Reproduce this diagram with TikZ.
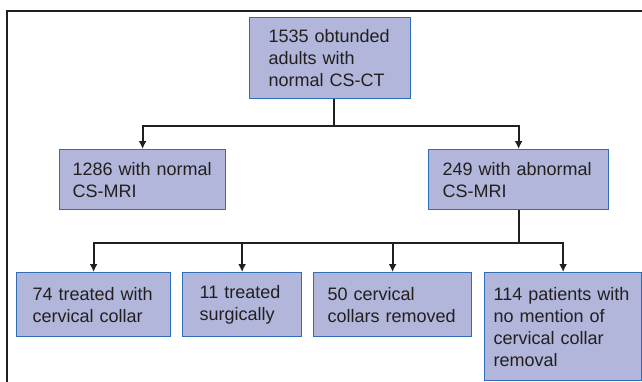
\documentclass[tikz,border=0pt]{standalone}
\usepackage{fontspec}
\setmainfont{Liberation Sans}
\usepackage{xcolor}
\usetikzlibrary{arrows.meta}
\definecolor{boxfill}{HTML}{B1B6DA}
\definecolor{boxline}{HTML}{2F6DB5}
\definecolor{linegray}{HTML}{231F20}
\tikzset{
	box/.style={
			draw=boxline, fill=boxfill, line width=1.2pt, text=linegray,
			align=left, anchor=north west, inner ysep=0pt,
			font=\fontsize{18}{22}\selectfont
		},
	trunk/.style={draw=linegray, line width=2pt},
	conn/.style={trunk, -{Latex[length=8pt, width=8pt]}}
}

\begin{document}
\begin{tikzpicture}[x=1pt, y=-1pt]
        \useasboundingbox (0, 0) rectangle (642, 381);
        \draw[linegray, line width=1.3pt] (7, 420) -- (7, 11) -- (680, 11);
        % first level
        \node[box, minimum width=161, minimum height=81, inner xsep=19, text width=123] (top) at (249, 17) {1535 obtunded\\adults with\\normal CS-CT};
        \node[box, minimum width=166, minimum height=60, inner xsep=13, text width=140] (normal) at (59, 149) {1286 with normal\\CS-MRI};
        \node[box, minimum width=180, minimum height=60, inner xsep=14, text width=152] (abnormal) at (428, 149) {249 with abnormal\\CS-MRI};
        % second level
        \node[box, minimum width=154, minimum height=64, inner xsep=16, text width=122] (collar) at (16, 272) {74 treated with\\cervical collar};
        \node[box, minimum width=119, minimum height=64, inner xsep=17, text width=85] (surgery) at (182, 272) {11 treated\\surgically};
        \node[box, minimum width=158, minimum height=64, inner xsep=14, text width=130] (removed) at (313, 272) {50 cervical\\collars removed};
        \node[box, minimum width=157, minimum height=108, inner xsep=9, text width=139] (nomention) at (484, 272) {114 patients with\\no mention of\\cervical collar\\removal};
        % connectors
        \draw[trunk] ([xshift=4]top.south) -- ++(0, 27) coordinate (fork1);
        \draw[conn] (fork1) -| (normal.north);
        \draw[conn] (fork1) -| (abnormal.north);
        \draw[trunk] (abnormal.south) -- ++(0, 33) coordinate (fork2);
        \foreach \n in {collar, surgery, removed, nomention}
            \draw[conn] (fork2) -| (\n.north);
    \end{tikzpicture}
\end{document}
